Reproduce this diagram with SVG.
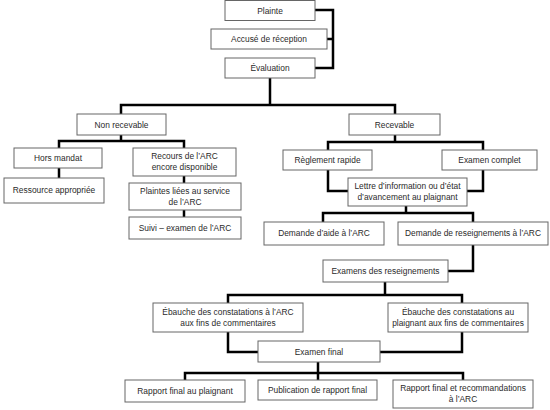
<svg xmlns="http://www.w3.org/2000/svg" width="550" height="410" viewBox="0 0 550 410">
<style>
.b{fill:#fff;stroke:#666;stroke-width:1}
.t{font-family:"Liberation Sans",Arial,sans-serif;font-size:8.4px;fill:#2a2a2a;text-anchor:middle}
.c{fill:none;stroke:#000;stroke-width:2.5;stroke-linejoin:miter}
</style>
<rect width="550" height="410" fill="#fff"/>
<g id="connectors">
<polyline class="c" points="315,10 333,10 333,68 315,68"/>
<line class="c" x1="327" y1="39" x2="333" y2="39"/>
<line class="c" x1="270" y1="78" x2="270" y2="105"/>
<polyline class="c" points="121,114 121,105 395,105 395,114"/>
<line class="c" x1="121" y1="135" x2="121" y2="141"/>
<polyline class="c" points="59,148 59,141 184,141 184,148"/>
<line class="c" x1="59" y1="168" x2="59" y2="178"/>
<line class="c" x1="184" y1="176" x2="184" y2="183"/>
<line class="c" x1="184" y1="210" x2="184" y2="217"/>
<line class="c" x1="395" y1="135" x2="395" y2="142"/>
<polyline class="c" points="328,150 328,142 483,142 483,150"/>
<polyline class="c" points="328,170 328,191 348,191"/>
<polyline class="c" points="483,170 483,191 467,191"/>
<line class="c" x1="406" y1="206" x2="406" y2="213"/>
<polyline class="c" points="323,222 323,213 473,213 473,222"/>
<polyline class="c" points="473,245 473,271 448,271"/>
<line class="c" x1="385" y1="282" x2="385" y2="295"/>
<polyline class="c" points="228,303 228,295 462,295 462,303"/>
<polyline class="c" points="228,332 228,352 258,352"/>
<polyline class="c" points="462,332 462,352 380,352"/>
<line class="c" x1="318" y1="362" x2="318" y2="373"/>
<polyline class="c" points="185,380 185,373 463,373 463,380"/>
<line class="c" x1="318" y1="373" x2="318" y2="380"/>
</g>
<g id="plainte"><rect class="b" x="225" y="0.5" width="90" height="20"/><text class="t" x="270" y="13.5">Plainte</text></g>
<g id="accuse"><rect class="b" x="211" y="29" width="116" height="20"/><text class="t" x="269" y="42">Accusé de réception</text></g>
<g id="evaluation"><rect class="b" x="225" y="58" width="90" height="20"/><text class="t" x="270" y="71">Évaluation</text></g>
<g id="non-recevable"><rect class="b" x="77" y="114" width="89" height="21"/><text class="t" x="121.5" y="127.5">Non recevable</text></g>
<g id="recevable"><rect class="b" x="349" y="114" width="91" height="21"/><text class="t" x="394.5" y="127.5">Recevable</text></g>
<g id="hors-mandat"><rect class="b" x="14" y="148" width="88" height="20"/><text class="t" x="58" y="161">Hors mandat</text></g>
<g id="ressource"><rect class="b" x="4" y="178" width="100" height="25"/><text class="t" x="54" y="193">Ressource appropriée</text></g>
<g id="recours"><rect class="b" x="133" y="148" width="103" height="28"/><text class="t" x="184.5" y="159">Recours de l’ARC</text><text class="t" x="184.5" y="170">encore disponible</text></g>
<g id="plaintes-liees"><rect class="b" x="129" y="183" width="112" height="27"/><text class="t" x="185" y="193.5">Plaintes liées au service</text><text class="t" x="185" y="204.5">de l’ARC</text></g>
<g id="suivi"><rect class="b" x="129" y="217" width="112" height="22"/><text class="t" x="185" y="231">Suivi – examen de l’ARC</text></g>
<g id="reglement"><rect class="b" x="283" y="150" width="89" height="20"/><text class="t" x="327.5" y="163">Règlement rapide</text></g>
<g id="examen-complet"><rect class="b" x="442" y="150" width="95" height="20"/><text class="t" x="489.5" y="163">Examen complet</text></g>
<g id="lettre"><rect class="b" x="348" y="178" width="119" height="28"/><text class="t" x="407.5" y="189">Lettre d’information ou d’état</text><text class="t" x="407.5" y="200">d’avancement au plaignant</text></g>
<g id="demande-aide"><rect class="b" x="264" y="222" width="120" height="23"/><text class="t" x="324" y="236">Demande d’aide à l’ARC</text></g>
<g id="demande-renseignements"><rect class="b" x="398" y="222" width="150" height="23"/><text class="t" x="473" y="236">Demande de reseignements à l’ARC</text></g>
<g id="examens"><rect class="b" x="323" y="260" width="125" height="22"/><text class="t" x="385.5" y="274">Examens des reseignements</text></g>
<g id="ebauche-arc"><rect class="b" x="153" y="303" width="150" height="29"/><text class="t" x="228" y="314.5">Ébauche des constatations à l’ARC</text><text class="t" x="228" y="325.5">aux fins de commentaires</text></g>
<g id="ebauche-plaignant"><rect class="b" x="388" y="303" width="140" height="29"/><text class="t" x="458" y="314.5">Ébauche des constatations au</text><text class="t" x="458" y="325.5">plaignant aux fins de commentaires</text></g>
<g id="examen-final"><rect class="b" x="258" y="341" width="122" height="21"/><text class="t" x="319" y="354.5">Examen final</text></g>
<g id="rapport-plaignant"><rect class="b" x="125" y="380" width="120" height="22"/><text class="t" x="185" y="394">Rapport final au plaignant</text></g>
<g id="publication"><rect class="b" x="258" y="380" width="119" height="20"/><text class="t" x="317.5" y="393">Publication de rapport final</text></g>
<g id="rapport-arc"><rect class="b" x="393" y="380" width="140" height="28"/><text class="t" x="463" y="391">Rapport final et recommandations</text><text class="t" x="463" y="402">à l’ARC</text></g>
</svg>
